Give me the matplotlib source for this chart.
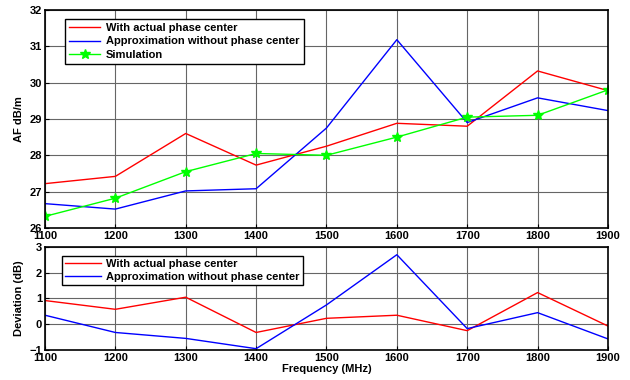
import matplotlib
matplotlib.use("Agg")
from matplotlib import pyplot as plt

freq = [1100, 1200, 1300, 1400, 1500, 1600, 1700, 1800, 1900]

# antenna factor (dB/m)
af_actual = [27.22, 27.42, 28.60, 27.73, 28.25, 28.88, 28.80, 30.32, 29.78]
af_approx = [26.67, 26.52, 27.02, 27.08, 28.75, 31.18, 28.90, 29.58, 29.23]
af_sim = [26.32, 26.82, 27.55, 28.05, 28.00, 28.50, 29.05, 29.10, 29.80]

# deviation from simulation (dB)
dev_actual = [0.92, 0.58, 1.05, -0.32, 0.23, 0.35, -0.25, 1.23, -0.07]
dev_approx = [0.35, -0.32, -0.55, -0.95, 0.75, 2.70, -0.17, 0.45, -0.57]

labels = ['With actual phase center', 'Approximation without phase center', 'Simulation']

plt.rcParams['font.family'] = ['Liberation Sans', 'DejaVu Sans']
plt.rcParams['font.weight'] = 'bold'
plt.rcParams['font.size'] = 8

fig = plt.figure(figsize=(6.3, 3.8), dpi=100)
ax1 = fig.add_axes([0.0714, 0.40, 0.8936, 0.574])
ax2 = fig.add_axes([0.0714, 0.079, 0.8936, 0.271])

ax1.plot(freq, af_actual, color='red', lw=1, label=labels[0])
ax1.plot(freq, af_approx, color='blue', lw=1, label=labels[1])
ax1.plot(freq, af_sim, color='#00ff00', lw=1, marker='*', ms=7, label=labels[2])
ax1.set_xlim(1100, 1900)
ax1.set_ylim(26, 32)
ax1.set_ylabel('AF dB/m', fontweight='bold')
ax1.legend(loc='upper left', bbox_to_anchor=(0.025, 0.985), fancybox=False,
           edgecolor='black', framealpha=1, borderpad=0.4, labelspacing=0.3,
           handlelength=2.8, handletextpad=0.5)

ax2.plot(freq, dev_actual, color='red', lw=1, label=labels[0])
ax2.plot(freq, dev_approx, color='blue', lw=1, label=labels[1])
ax2.set_xlim(1100, 1900)
ax2.set_ylim(-1, 3)
ax2.set_yticks([-1, 0, 1, 2, 3])
ax2.set_ylabel('Deviation (dB)', fontweight='bold')
ax2.set_xlabel('Frequency (MHz)', fontweight='bold', labelpad=1)
ax2.legend(loc='upper left', bbox_to_anchor=(0.02, 0.97), fancybox=False,
           edgecolor='black', framealpha=1, borderpad=0.3, labelspacing=0.25,
           handlelength=3.2, handletextpad=0.5)

for ax in (ax1, ax2):
    ax.set_xticks(freq)
    ax.grid(True, color='#666666', lw=0.8)
    ax.tick_params(direction='in', length=3, pad=2)
    for s in ax.spines.values():
        s.set_linewidth(1.2)

plt.savefig('out.png', dpi=100)
